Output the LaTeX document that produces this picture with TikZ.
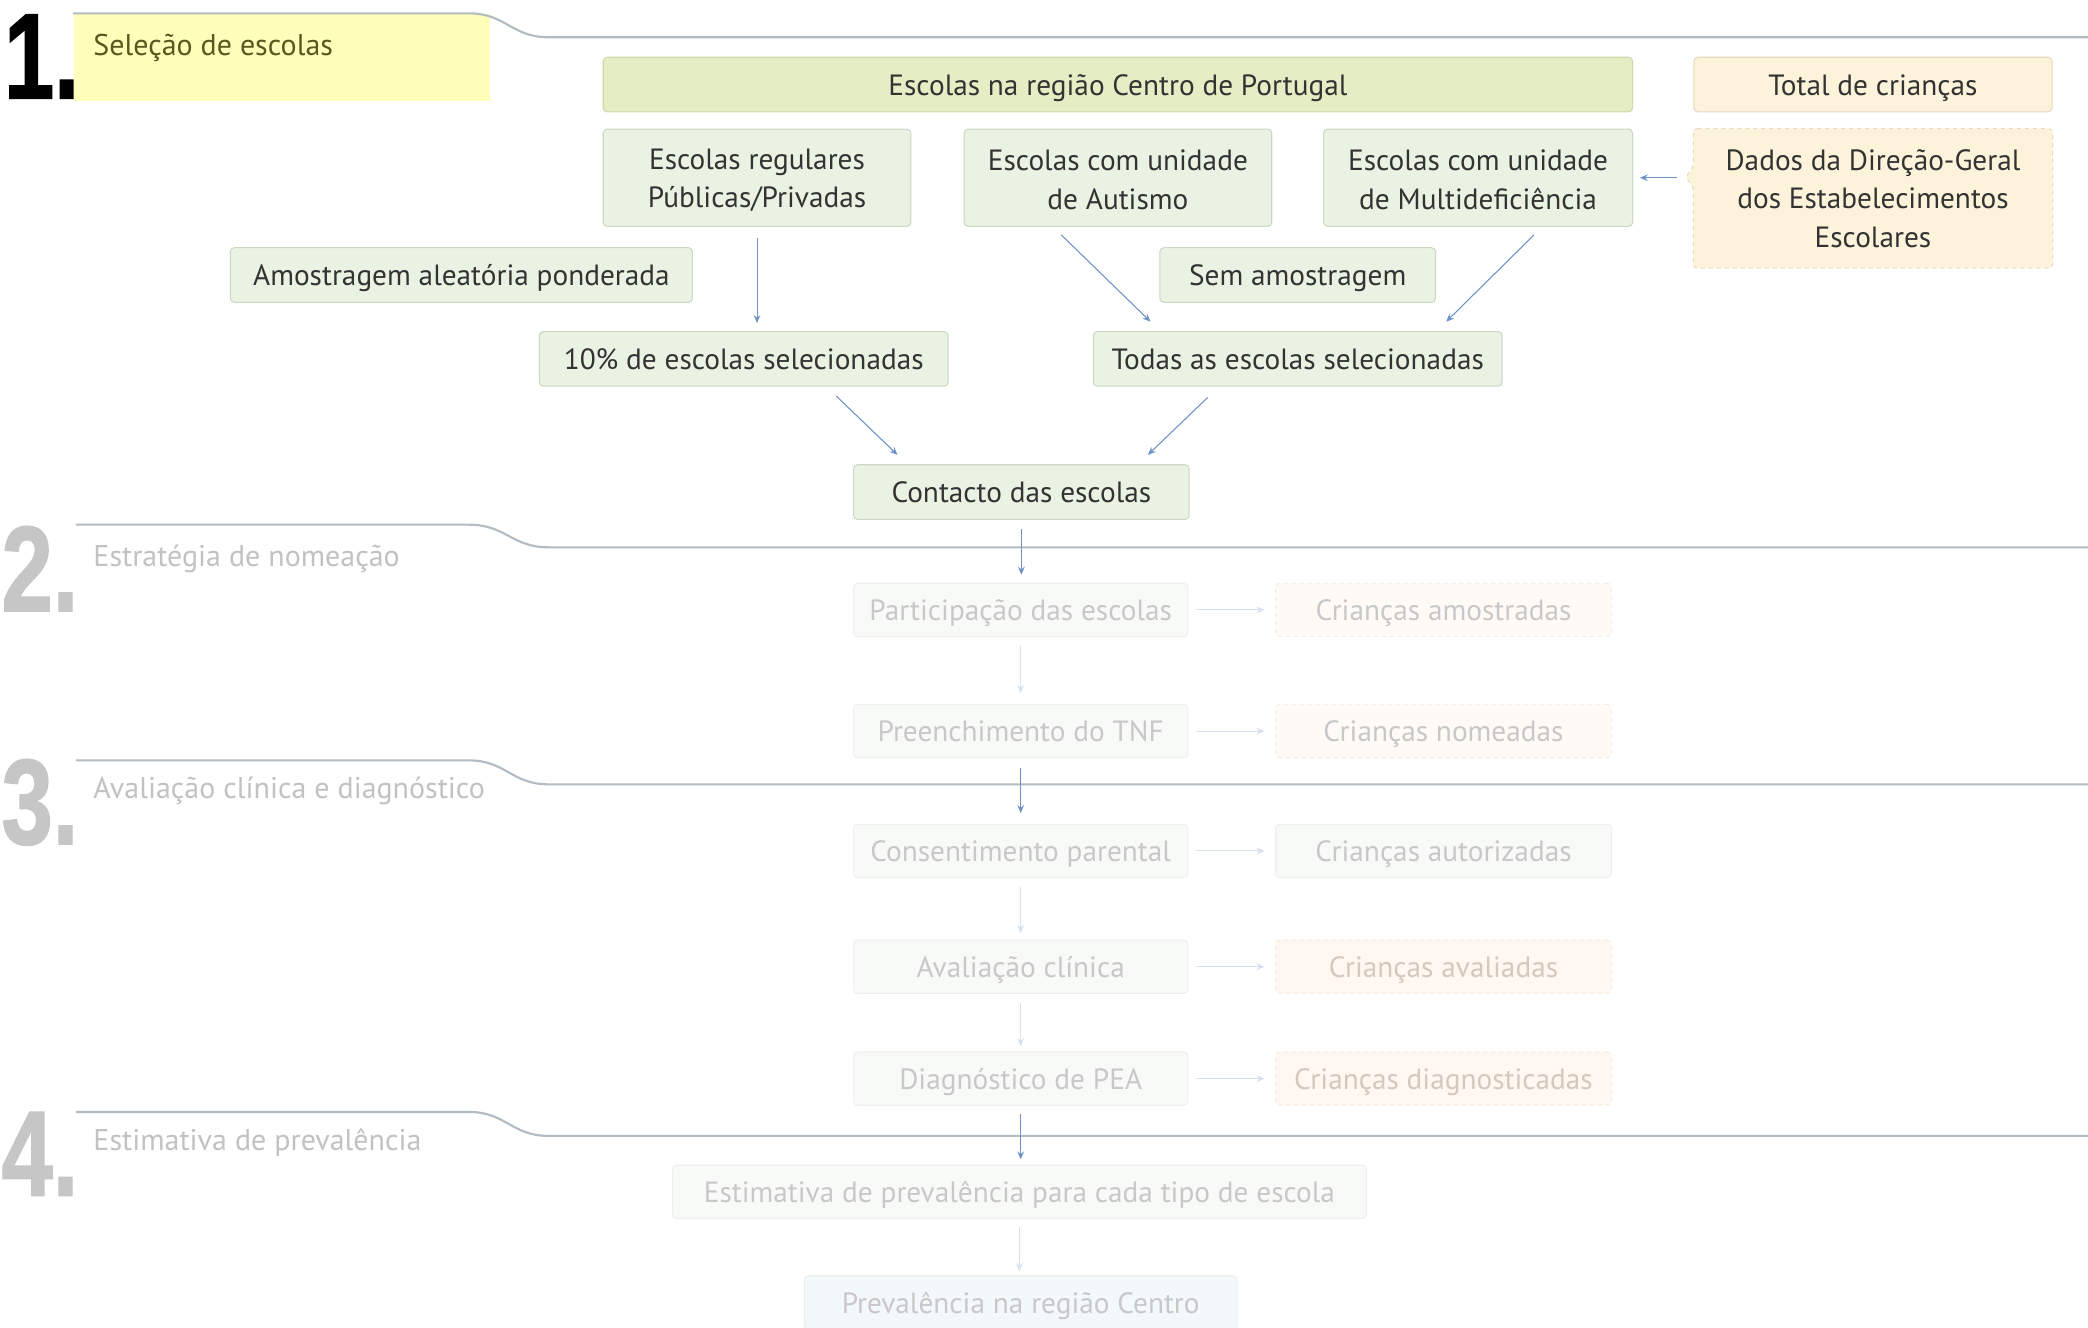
\documentclass[tikz,border=0pt]{standalone}
\usepackage{fontspec}
\setmainfont{PT Sans}
\newfontfamily\numfont[BoldFeatures={FakeBold=1.5}]{Liberation Sans}
\usepackage{graphicx}
\usetikzlibrary{arrows.meta,backgrounds,calc}
\definecolor{txt}{HTML}{333333}
\definecolor{hyel}{HTML}{FFFFBA}
\definecolor{htxt}{HTML}{5A5820}
\definecolor{topfill}{HTML}{E5EDC4}
\definecolor{topbord}{HTML}{CFD9AE}
\definecolor{gfill}{HTML}{E9F2E3}
\definecolor{gbord}{HTML}{CBD8C4}
\definecolor{bfill}{HTML}{FDF3DA}
\definecolor{bbord}{HTML}{E3DAC0}
\definecolor{arrc}{HTML}{6F93C6}
\definecolor{farrc}{HTML}{D6E0EF}
\definecolor{hline}{HTML}{B3BBC3}
\definecolor{ftxt}{HTML}{C8C8C8}
\definecolor{fhtxt}{HTML}{C2C2C2}
\definecolor{fnum}{HTML}{C6C6C6}
\definecolor{ffill}{HTML}{F8FAF7}
\definecolor{fbord}{HTML}{EDF0EB}
\definecolor{fbfill}{HTML}{FFFAF5}
\definecolor{fbbord}{HTML}{F5EEE6}
\definecolor{fofill}{HTML}{FFF7F0}
\definecolor{fotxt}{HTML}{D5C8C0}
\definecolor{fpfill}{HTML}{F3F8FA}
\begin{document}
\begin{tikzpicture}[x=1pt,y=-1pt,
  box/.style={draw=gbord, fill=gfill, rounded corners=3pt, inner sep=0pt, align=center,
    font=\fontsize{22}{29}\selectfont, text=txt, line width=0.8pt, minimum height=41pt},
  one/.style={text height=18pt, text depth=2pt},
  fbox/.style={box, one, draw=fbord, fill=ffill, text=ftxt, minimum height=40pt},
  fdbox/.style={fbox, dashed, draw=fbbord, fill=fbfill},
  arr/.style={-{Stealth[length=6pt,width=5pt,inset=2pt]}, draw=arrc, line width=0.8pt},
  farr/.style={arr, draw=farrc},
  hl/.style={draw=hline, line width=1.6pt},
  htext/.style={anchor=west, inner sep=0pt, font=\fontsize{22.5}{24}\selectfont},
  num/.style={anchor=south west, inner sep=0pt, font=\numfont\bfseries\fontsize{91}{91}\selectfont}
]
\begin{scope}[on background layer]
\fill[white] (0,0) rectangle (1568,997);
\end{scope}
\useasboundingbox (0,0) rectangle (1568,997);

% stage headers
\node[fill=hyel, minimum width=313pt, minimum height=66pt, inner sep=0pt, anchor=north west] (h1box) at (55,10) {};
\draw[hl] (55,10) -- (352,10) .. controls (380,10) and (384,28) .. (412,28) -- (1568,28);
\draw[hl] (57,394) -- (352,394) .. controls (380,394) and (384,411) .. (412,411) -- (1568,411);
\draw[hl] (57,571) -- (352,571) .. controls (380,571) and (384,589) .. (412,589) -- (1568,589);
\draw[hl] (57,835) -- (352,835) .. controls (380,835) and (384,853) .. (412,853) -- (1568,853);

\node[num, text=black] (n1) at (3,74) {\scalebox{0.74}[1]{1.}};
\node[num, text=fnum] (n2) at (1,459) {\scalebox{0.76}[1]{2.}};
\node[num, text=fnum] (n3) at (1,635) {\scalebox{0.76}[1]{3.}};
\node[num, text=fnum] (n4) at (1,898) {\scalebox{0.76}[1]{4.}};

\node[htext, text=htxt] (t1) at (70,36) {Seleção de escolas};
\node[htext, text=fhtxt] (t2) at (70,420) {Estratégia de nomeação};
\node[htext, text=fhtxt] (t3) at (70,594) {Avaliação clínica e diagnóstico};
\node[htext, text=fhtxt] (t4) at (70,858) {Estimativa de prevalência};

% stage 1 nodes
\node[box, one, draw=topbord, fill=topfill, minimum width=773pt] (top) at (839.5,63.5) {Escolas na região Centro de Portugal};
\node[box, one, draw=bbord, fill=bfill, minimum width=269pt] (total) at (1406.5,63.5) {Total de crianças};
\node[box, minimum width=231pt, minimum height=73pt] (reg) at (568.5,133.5) {\rule{0pt}{19pt}Escolas regulares\\Públicas/Privadas};
\node[box, minimum width=231pt, minimum height=73pt] (aut) at (839.5,133.5) {\rule{0pt}{19pt}Escolas com unidade\\de Autismo};
\node[box, minimum width=232pt, minimum height=73pt] (mul) at (1110,133.5) {\rule{0pt}{19pt}Escolas com unidade\\de Multideficiência};
\node[box, draw=none, fill=none, minimum width=269pt, minimum height=104pt] (dados) at (1406.5,149) {Dados da Direção-Geral\\dos Estabelecimentos\\Escolares};
\begin{scope}[on background layer]
\draw[dashed, draw=bbord, fill=bfill, line width=0.8pt, rounded corners=3pt]
  (dados.north west) -- (dados.north east) -- (dados.south east) -- (dados.south west)
  -- ([yshift=9pt]dados.west) -- ([xshift=-6pt,yshift=16pt]dados.west) -- ([yshift=23pt]dados.west) -- cycle;
\end{scope}
\node[box, one, minimum width=347pt] (amost) at (346.5,206.5) {Amostragem aleatória ponderada};
\node[box, one, minimum width=207pt] (sem) at (974.5,206.5) {Sem amostragem};
\node[box, one, minimum width=307pt] (dez) at (558.5,269.5) {10\% de escolas selecionadas};
\node[box, one, minimum width=307pt] (todas) at (974.5,269.5) {Todas as escolas selecionadas};
\node[box, one, minimum width=252pt] (contacto) at (767,369.5) {Contacto das escolas};

% stage 2-4 faded nodes
\node[fbox, minimum width=251pt] (part) at (766.5,458) {Participação das escolas};
\node[fdbox, minimum width=252pt] (camost) at (1084,458) {Crianças amostradas};
\node[fbox, minimum width=251pt] (preench) at (766.5,549) {Preenchimento do TNF};
\node[fdbox, minimum width=252pt] (cnom) at (1084,549) {Crianças nomeadas};
\node[fbox, minimum width=251pt] (consent) at (766.5,639) {Consentimento parental};
\node[fbox, minimum width=252pt] (caut) at (1084,639) {Crianças autorizadas};
\node[fbox, minimum width=251pt] (aval) at (766.5,726) {Avaliação clínica};
\node[fdbox, fill=fofill, text=fotxt, minimum width=252pt] (caval) at (1084,726) {Crianças avaliadas};
\node[fbox, minimum width=251pt] (diag) at (766.5,810) {Diagnóstico de PEA};
\node[fdbox, fill=fofill, text=fotxt, minimum width=252pt] (cdiag) at (1084,810) {Crianças diagnosticadas};
\node[fbox, minimum width=521pt] (estim) at (765.5,895) {Estimativa de prevalência para cada tipo de escola};
\node[fbox, fill=fpfill, minimum width=325pt] (prev) at (766.5,978) {Prevalência na região Centro};

% connectors stage 1
\draw[arr] ([yshift=-8pt]reg.south) -- ([yshift=6pt]reg.south |- dez.north);
\draw[arr] ([xshift=-42.5pt,yshift=-6pt]aut.south) -- ([xshift=-110.5pt,yshift=7pt]todas.north);
\draw[arr] ([xshift=42pt,yshift=-6pt]mul.south) -- ([xshift=111.5pt,yshift=7pt]todas.north);
\draw[arr] ([xshift=69.5pt,yshift=-7pt]dez.south) -- ([xshift=-93pt,yshift=7pt]contacto.north);
\draw[arr] ([xshift=-67.5pt,yshift=-8pt]todas.south) -- ([xshift=95pt,yshift=7pt]contacto.north);
\draw[arr] ([xshift=-12pt]dados.west |- mul.east) -- ([xshift=5pt]mul.east);
\draw[arr] ([yshift=-7pt]contacto.south) -- ([yshift=6pt]contacto.south |- part.north);

% connectors stages 2-4
\draw[farr] ([xshift=6pt]part.east) -- ([xshift=-8pt]camost.west);
\draw[farr] ([xshift=6pt]preench.east) -- ([xshift=-8pt]cnom.west);
\draw[farr] ([xshift=6pt]consent.east) -- ([xshift=-8pt]caut.west);
\draw[farr] ([xshift=6pt]aval.east) -- ([xshift=-8pt]caval.west);
\draw[farr] ([xshift=6pt]diag.east) -- ([xshift=-8pt]cdiag.west);
\draw[farr] ([yshift=-7pt]part.south) -- ([yshift=8pt]preench.north);
\draw[arr] ([yshift=-7pt]preench.south) -- ([yshift=8pt]consent.north);
\draw[farr] ([yshift=-7pt]consent.south) -- ([yshift=5pt]aval.north);
\draw[farr] ([yshift=-7pt]aval.south) -- ([yshift=4pt]diag.north);
\draw[arr] ([yshift=-6pt]diag.south) -- ([yshift=4pt]diag.south |- estim.north);
\draw[farr] ([yshift=-6pt]estim.south) -- ([yshift=3pt]estim.south |- prev.north);
\end{tikzpicture}
\end{document}
